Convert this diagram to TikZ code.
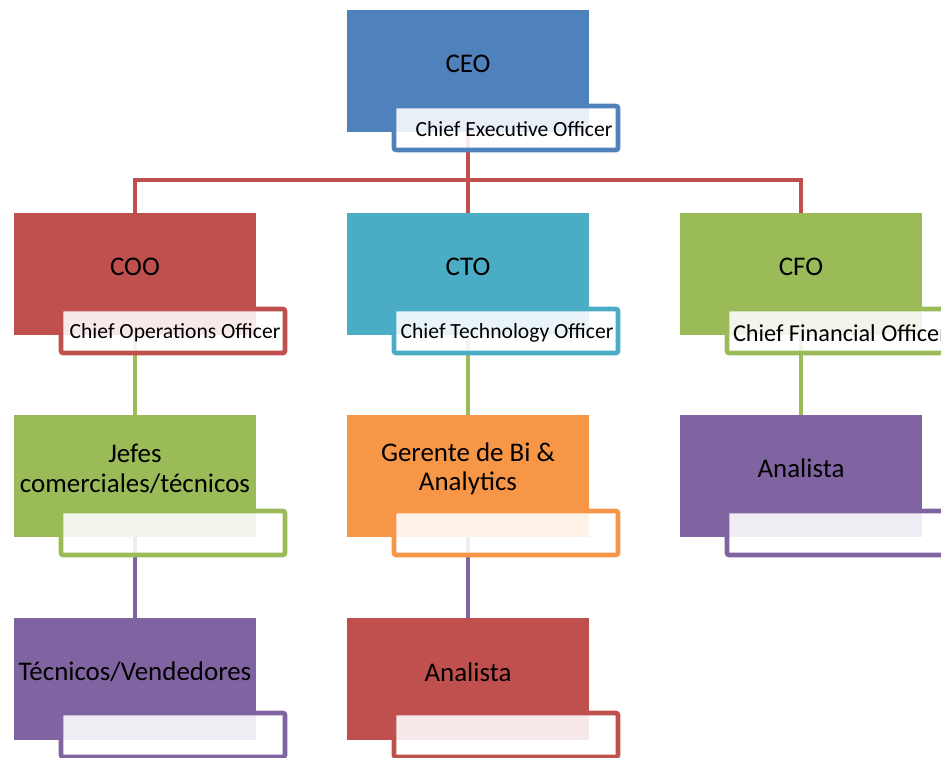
\documentclass[tikz,border=0pt]{standalone}
\usepackage{fontspec}
\setmainfont{Carlito}
\usetikzlibrary{calc}
\definecolor{cblue}{HTML}{4F81BD}
\definecolor{cred}{HTML}{C0504D}
\definecolor{cteal}{HTML}{4BACC6}
\definecolor{cgreen}{HTML}{9BBB59}
\definecolor{corange}{HTML}{F79646}
\definecolor{cpurple}{HTML}{8064A2}
\pgfdeclarelayer{background}
\pgfsetlayers{background,main}
\begin{document}
\begin{tikzpicture}[x=0.75pt,y=-0.75pt,
  mainbox/.style={rectangle, minimum width=181.5pt, minimum height=91.5pt, inner sep=0pt, draw=none},
  subbox/.style={rectangle, minimum width=168pt, minimum height=33pt, inner sep=0pt, line width=3.4pt, fill=white, fill opacity=0.88, text opacity=1, rounded corners=1.5pt},
  title/.style={font=\fontsize{20.2}{22.2}\selectfont, align=center, text=black, inner sep=0pt},
  subtitle/.style={font=\fontsize{16.2}{19}\selectfont, text=black, inner sep=0pt},
  conn/.style={line width=3.4pt}
]
\useasboundingbox (0,0) rectangle (941,757);

% main boxes
\node[mainbox, fill=cblue]   (ceo)  at (468,71)  {};
\node[mainbox, fill=cred]    (coo)  at (135,274) {};
\node[mainbox, fill=cteal]   (cto)  at (468,274) {};
\node[mainbox, fill=cgreen]  (cfo)  at (801,274) {};
\node[mainbox, fill=cgreen]  (jef)  at (135,476) {};
\node[mainbox, fill=corange] (ger)  at (468,476) {};
\node[mainbox, fill=cpurple] (ana1) at (801,476) {};
\node[mainbox, fill=cpurple] (tec)  at (135,679) {};
\node[mainbox, fill=cred]    (ana2) at (468,679) {};

% titles
\node[title] (ceot)  at ($(ceo.center)+(0,-7)$)  {CEO};
\node[title] (coot)  at ($(coo.center)+(0,-7)$)  {COO};
\node[title] (ctot)  at ($(cto.center)+(0,-7)$)  {CTO};
\node[title] (cfot)  at ($(cfo.center)+(0,-7)$)  {CFO};
\node[title] (jeft)  at ($(jef.center)+(0,-7)$)  {Jefes\\comerciales/técnicos};
\node[title] (gert)  at ($(ger.center)+(0,-7)$)  {Gerente de Bi \&\\Analytics};
\node[title] (ana1t) at ($(ana1.center)+(0,-8)$) {Analista};
\node[title] (tect)  at ($(tec.center)+(0,-7)$)  {Técnicos/Vendedores};
\node[title] (ana2t) at ($(ana2.center)+(0,-7)$) {Analista};

% sub boxes
\node[subbox, draw=cblue]   (ceos)  at ($(ceo.center)+(38,57)$)  {};
\node[subbox, draw=cred]    (coos)  at ($(coo.center)+(38,57)$)  {};
\node[subbox, draw=cteal]   (ctos)  at ($(cto.center)+(38,57)$)  {};
\node[subbox, draw=cgreen]  (cfos)  at ($(cfo.center)+(38,57)$)  {};
\node[subbox, draw=cgreen]  (jefs)  at ($(jef.center)+(38,57)$)  {};
\node[subbox, draw=corange] (gers)  at ($(ger.center)+(38,57)$)  {};
\node[subbox, draw=cpurple] (ana1s) at ($(ana1.center)+(38,57)$) {};
\node[subbox, draw=cpurple] (tecs)  at ($(tec.center)+(38,56)$)  {};
\node[subbox, draw=cred]    (ana2s) at ($(ana2.center)+(38,56)$) {};

% subtitles
\node[subtitle] (ceost) at ($(ceos.center)+(8,1)$) {Chief Executive Officer};
\node[subtitle] (coost) at ($(coos.center)+(2,2)$) {Chief Operations Officer};
\node[subtitle] (ctost) at ($(ctos.center)+(1,2)$) {Chief Technology Officer};
\node[subtitle, font=\fontsize{18.2}{21}\selectfont, anchor=west] (cfost) at ($(cfos.west)+(8,2)$) {Chief Financial Officer};

% connectors
\begin{pgfonlayer}{background}
\coordinate (bus) at (468,180);
\draw[conn, cred] (ceo.south) -- (bus);
\draw[conn, cred] (bus) -| (coo.north);
\draw[conn, cred] (bus) -| (cfo.north);
\draw[conn, cred] (bus) -- (cto.north);
\draw[conn, cgreen] (coo.south) -- (jef.north);
\draw[conn, cgreen] (cto.south) -- (ger.north);
\draw[conn, cgreen] (cfo.south) -- (ana1.north);
\draw[conn, cpurple] (jef.south) -- (tec.north);
\draw[conn, cpurple] (ger.south) -- (ana2.north);
\end{pgfonlayer}
\end{tikzpicture}
\end{document}
